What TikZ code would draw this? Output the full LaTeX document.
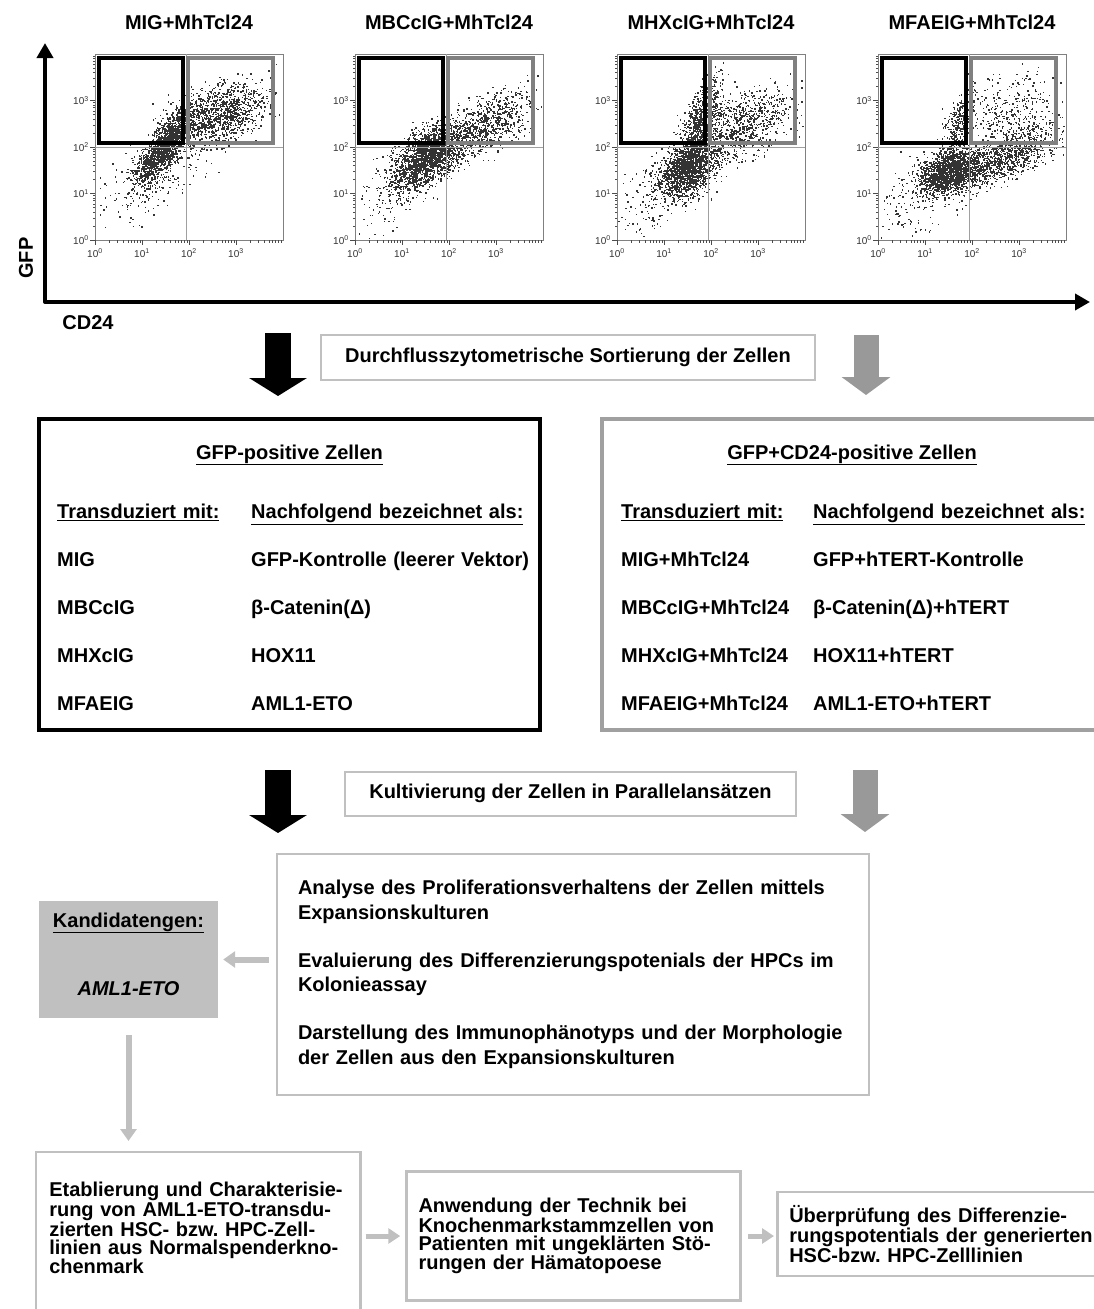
\documentclass[tikz,border=0pt]{standalone}
\usepackage{fontspec}
\setmainfont{Liberation Sans}
\usetikzlibrary{matrix,arrows.meta}
\frenchspacing

\definecolor{gategray}{HTML}{808080}
\definecolor{arrowgray}{HTML}{999999}
\definecolor{framegray}{HTML}{A0A0A0}
\definecolor{boxgray}{HTML}{C0C0C0}
\definecolor{dotgray}{HTML}{333333}

% events of one population, in decades: n, x, y, sx, slope part, spread part
\newcommand\cellcloud[6]{%
  \foreach \k in {1,...,#1}{%
    \pgfmathsetmacro\dotu{rand+rand+rand}%
    \pgfmathsetmacro\dotx{47*(#2+#4*\dotu)}%
    \pgfmathsetmacro\doty{46.5*(#3+#5*\dotu+#6*(rand+rand+rand))}%
    \ifdim\dotx pt>1pt \ifdim\dotx pt<186pt \ifdim\doty pt>1pt \ifdim\doty pt<184pt
      \pgfpathrectangle{\pgfpoint{\dotx pt}{\doty pt}}{\pgfpoint{1.4pt}{1.4pt}}\pgfusepath{fill}%
    \fi\fi\fi\fi}}

% one dot plot: id, title, populations
\newcommand\facsplot[3]{%
  \node[plotframe, anchor=south west] (plot#1) at (0,0) {};
  \begin{scope}[fill=dotgray]
  #3
  \end{scope}
  \draw[quadline] (0,-93) -- (188,-93) (91,0) -- (91,-186);
  \draw[blackgate] ([shift={(4,4)}]plot#1.north west) rectangle ++(84,85);
  \draw[graygate] ([shift={(93,4)}]plot#1.north west) rectangle ++(85,85);
  \foreach \d in {0,...,3}{%
    \draw[facstick] (47*\d,0) -- ++(0,5);
    \draw[facstick] (0,-46.5*\d) -- ++(-5,0);
    \node[facslabel] (#1-x\d) at (47*\d,13) {10\textsuperscript{\d}};
    \node[facslabel] (#1-y\d) at (-14,-46.5*\d) {10\textsuperscript{\d}};
    \foreach \m in {2,...,9}{%
      \draw[facstick] ({47*(\d+log10(\m))},0) -- ++(0,2.5);
      \draw[facstick] (0,{-46.5*(\d+log10(\m))}) -- ++(-2.5,0);}}
  \node[anchor=base] (title#1) at ([yshift=25pt]plot#1.north) {#2};
}

\begin{document}
\begin{tikzpicture}[x=1pt,y=-1pt,font=\bfseries\fontsize{20}{22.5}\selectfont]
\tikzstyle{plotframe}=[draw=gategray, line width=0.7pt, minimum width=188pt, minimum height=186pt, inner sep=0pt, outer sep=0pt]
\tikzstyle{quadline}=[framegray, line width=0.6pt]
\tikzstyle{blackgate}=[black, line width=4pt]
\tikzstyle{graygate}=[gategray, line width=4pt]
\tikzstyle{facstick}=[black!70, line width=0.5pt]
\tikzstyle{facslabel}=[inner sep=0pt, black!80, font=\mdseries\fontsize{10}{10}\selectfont]
\tikzstyle{axisline}=[line width=4pt, line join=round, {Triangle[width=16pt,length=15pt]}-{Triangle[width=16pt,length=15pt]}]
\tikzstyle{blackblock}=[line width=26pt, -{Triangle[width=57pt,length=18pt]}]
\tikzstyle{grayblock}=[arrowgray, line width=25pt, -{Triangle[width=48pt,length=18pt]}]
\tikzstyle{lightarrow}=[boxgray, line width=5pt, -{Triangle[width=15pt,length=12pt]}]
\tikzstyle{lightbox}=[draw=boxgray, line width=2.5pt, inner sep=0pt]
\tikzstyle{stepbox}=[lightbox, align=left, inner xsep=12pt, font=\bfseries\fontsize{20}{18}\selectfont]
\tikzstyle{tabmatrix}=[matrix of nodes, anchor=north west, inner sep=0pt, row sep=30pt, column sep=0pt,
  nodes={inner sep=0pt, align=left, text height=14pt, text depth=4pt}]

\useasboundingbox (0,0) rectangle (1094,1309);
\clip (0,0) rectangle (1094,1309);
\pgfmathsetseed{4711}

\begin{scope}[shift={(95,240)}]
\facsplot{A}{MIG+MhTcl24}{%
  \cellcloud{1500}{1.45}{1.95}{0.30}{0.33}{0.24}
  \cellcloud{1200}{2.55}{2.65}{0.52}{0.12}{0.3}
  \cellcloud{250}{1.3}{1.4}{0.55}{0.3}{0.45}}
\end{scope}
\begin{scope}[shift={(355,240)}]
\facsplot{B}{MBCcIG+MhTcl24}{%
  \cellcloud{1600}{1.5}{1.75}{0.32}{0.15}{0.28}
  \cellcloud{1100}{2.5}{2.3}{0.58}{0.25}{0.3}
  \cellcloud{300}{1.0}{1.3}{0.45}{0.35}{0.4}}
\end{scope}
\begin{scope}[shift={(617,240)}]
\facsplot{C}{MHXcIG+MhTcl24}{%
  \cellcloud{1400}{1.5}{1.5}{0.3}{0.12}{0.28}
  \cellcloud{800}{1.75}{2.45}{0.22}{0.3}{0.35}
  \cellcloud{900}{2.65}{2.45}{0.55}{0.18}{0.35}
  \cellcloud{250}{1.1}{1.2}{0.55}{0.3}{0.45}}
\end{scope}
\begin{scope}[shift={(878,240)}]
\facsplot{D}{MFAEIG+MhTcl24}{%
  \cellcloud{1600}{1.55}{1.45}{0.33}{0.08}{0.22}
  \cellcloud{1000}{2.75}{1.8}{0.55}{0.22}{0.25}
  \cellcloud{300}{1.7}{2.45}{0.18}{0.3}{0.3}
  \cellcloud{350}{2.75}{2.75}{0.5}{0.1}{0.35}
  \cellcloud{250}{1.0}{1.1}{0.5}{0.35}{0.45}}
\end{scope}

\coordinate (axorigin) at (45,302);
\coordinate (gfptip) at (45,43);
\coordinate (cdtip) at (1090,302);
\draw[axisline] (gfptip) -- (axorigin) -- (cdtip);
\node[rotate=90] (gfplabel) at (26,258) {GFP};
\node (cdlabel) at (88,323) {CD24};

\node[lightbox, line width=2pt, minimum width=494pt, minimum height=45pt] (sortbox) at (568,357) {Durchflusszytometrische Sortierung der Zellen};
\coordinate (sortLtop) at (278,333);
\coordinate (sortLtip) at (278,396);
\coordinate (sortRtop) at (866,335);
\coordinate (sortRtip) at (866,395);
\draw[blackblock] (sortLtop) -- (sortLtip);
\draw[grayblock] (sortRtop) -- (sortRtip);

\node[draw=black, line width=4pt, minimum width=501pt, minimum height=311pt, inner sep=0pt, outer sep=0pt] (gfpbox) at (289.5,574.5) {};
\node[draw=framegray, line width=4pt, minimum width=500pt, minimum height=311pt, inner sep=0pt, outer sep=0pt] (cdbox) at (852,574.5) {};
\node[anchor=base] (gfphead) at (289.5,459) {\underline{GFP-positive Zellen}};
\node[anchor=base] (cdhead) at (852,459) {\underline{GFP+CD24-positive Zellen}};

\matrix (gfptab) [tabmatrix, column 1/.style={nodes={text width=194pt}}, column 2/.style={nodes={text width=290pt}}] at (57,504) {
\underline{Transduziert mit:} & \underline{Nachfolgend bezeichnet als:} \\
MIG    & GFP-Kontrolle (leerer Vektor) \\
MBCcIG & β-Catenin(Δ) \\
MHXcIG & HOX11 \\
MFAEIG & AML1-ETO \\
};
\matrix (cdtab) [tabmatrix, column 1/.style={nodes={text width=192pt}}, column 2/.style={nodes={text width=280pt}}] at (621,504) {
\underline{Transduziert mit:} & \underline{Nachfolgend bezeichnet als:} \\
MIG+MhTcl24    & GFP+hTERT-Kontrolle \\
MBCcIG+MhTcl24 & β-Catenin(Δ)+hTERT \\
MHXcIG+MhTcl24 & HOX11+hTERT \\
MFAEIG+MhTcl24 & AML1-ETO+hTERT \\
};

\node[lightbox, line width=2pt, minimum width=451pt, minimum height=44pt] (cultbox) at (570.5,793.5) {Kultivierung der Zellen in Parallelansätzen};
\coordinate (cultLtop) at (278,770);
\coordinate (cultLtip) at (278,833);
\coordinate (cultRtop) at (865,770);
\coordinate (cultRtip) at (865,832);
\draw[blackblock] (cultLtop) -- (cultLtip);
\draw[grayblock] (cultRtop) -- (cultRtip);

\node[lightbox, minimum width=592pt, minimum height=241pt, text width=550pt, align=left, font=\bfseries\fontsize{20}{24.5}\selectfont] (analysis) at (573,974.5) {Analyse des Proliferationsverhaltens der Zellen mittels\\
Expansionskulturen\\[23.5pt]
Evaluierung des Differenzierungspotenials der HPCs im\\
Kolonieassay\\[23.5pt]
Darstellung des Immunophänotyps und der Morphologie\\
der Zellen aus den Expansionskulturen};

\node[fill=boxgray, minimum width=179pt, minimum height=117pt, inner sep=0pt] (kand) at (128.5,959.5) {};
\node[anchor=base] (kandhead) at (128.5,927) {\underline{Kandidatengen:}};
\node[anchor=base, font=\bfseries\itshape\fontsize{20}{22.5}\selectfont] (kandgene) at (128.5,995) {AML1-ETO};
\draw[lightarrow, line width=6pt, -{Triangle[width=16pt,length=12pt]}, shorten <=7pt, shorten >=5pt] (analysis.west |- kand.east) -- (kand.east);

% open at the bottom: border drawn as a path
\node[stepbox, draw=none, anchor=north west, text width=298pt, minimum height=150pt] (estab) at (36,1152) {Etablierung und Charakterisie-\\
rung von AML1-ETO-transdu-\\
zierten HSC- bzw. HPC-Zell-\\
linien aus Normalspenderkno-\\
chenmark};
\draw[boxgray, line width=2.5pt] ([yshift=-30pt]estab.south west) |- (estab.north east) -- ([yshift=-30pt]estab.south east);
\draw[lightarrow, line width=6pt, -{Triangle[width=16pt,length=12pt]}, shorten <=17pt, shorten >=11pt] (kand.south) -- (kand.south |- estab.north);

\node[stepbox, text width=310pt, minimum height=129pt] (anwend) at (573.5,1236) {Anwendung der Technik bei\\
Knochenmarkstammzellen von\\
Patienten mit ungeklärten Stö-\\
rungen der Hämatopoese};
\node[stepbox, anchor=west, text width=310pt, minimum height=84pt] (uberpr) at (776,1234) {Überprüfung des Differenzie-\\
rungspotentials der generierten\\
HSC-bzw. HPC-Zelllinien};
\draw[lightarrow, shorten <=5pt, shorten >=5pt] (estab.east |- anwend.west) -- (anwend.west);
\draw[lightarrow, shorten <=6pt, shorten >=2pt] (anwend.east) -- (anwend.east -| uberpr.west);

\end{tikzpicture}
\end{document}
